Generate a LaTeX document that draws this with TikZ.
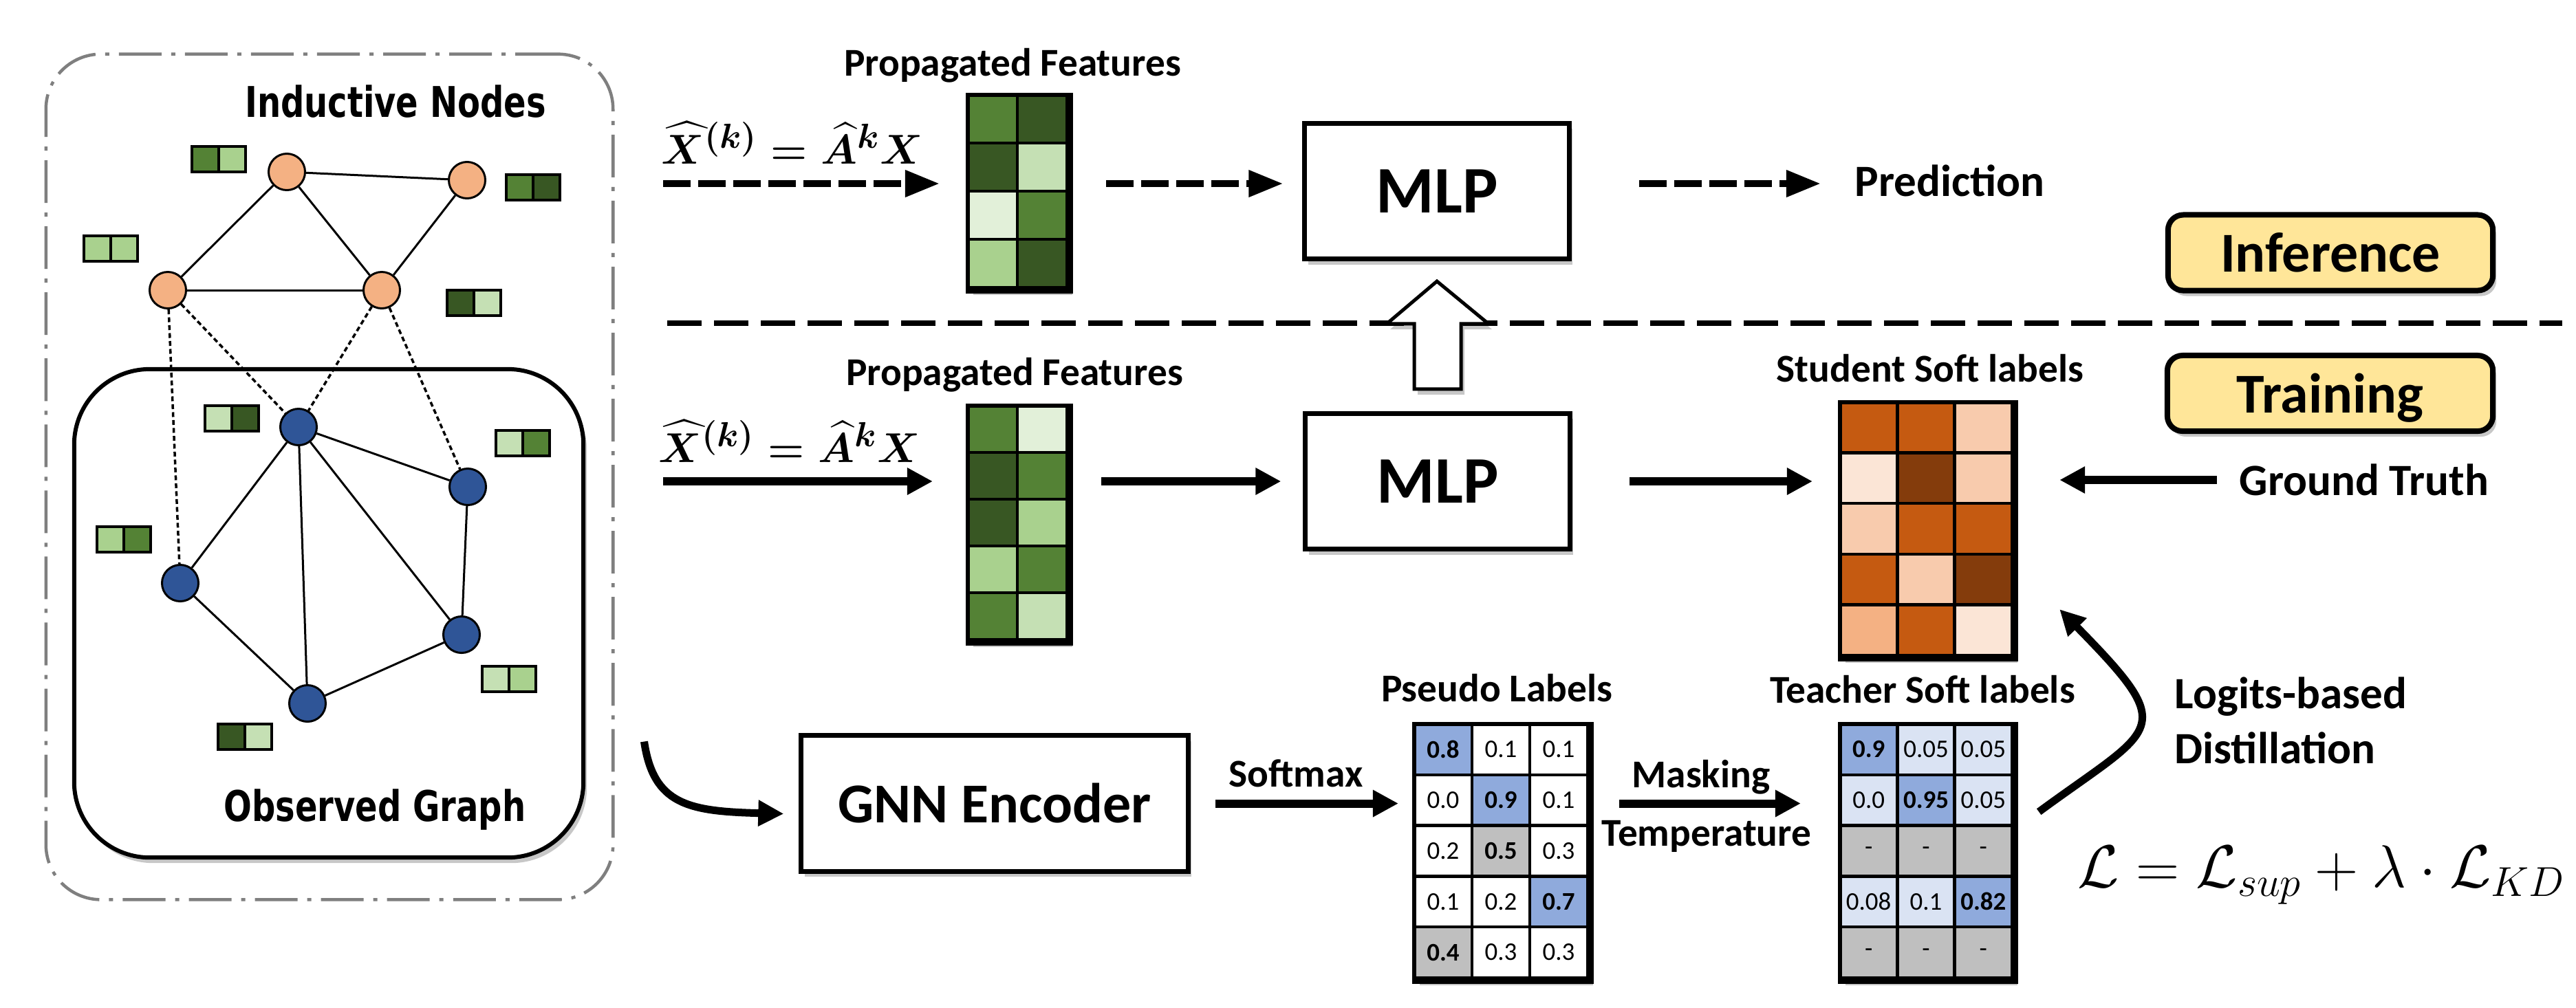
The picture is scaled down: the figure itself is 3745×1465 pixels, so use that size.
\documentclass[tikz,border=0pt]{standalone}
\usepackage{amsmath}
\usepackage{fontspec}
\setmainfont{Carlito}
\newfontfamily\tahfont[FakeStretch=0.78]{DejaVu Sans}
\usetikzlibrary{arrows.meta,shadows,calc}
\definecolor{gd}{HTML}{385723}
\definecolor{gm}{HTML}{548235}
\definecolor{gl}{HTML}{A9D18E}
\definecolor{gv}{HTML}{C5E0B4}
\definecolor{gp}{HTML}{E2F0D9}
\definecolor{od}{HTML}{843C0C}
\definecolor{om}{HTML}{C55A11}
\definecolor{op}{HTML}{F8CBAD}
\definecolor{ov}{HTML}{FBE5D6}
\definecolor{oq}{HTML}{F4B183}
\definecolor{bc}{HTML}{8FAADC}
\definecolor{bp}{HTML}{DAE3F3}
\definecolor{gc}{HTML}{BFBFBF}
\definecolor{yl}{HTML}{FFE699}
\definecolor{cOn}{HTML}{F4B183}
\definecolor{cBn}{HTML}{2F5597}
\definecolor{dgray}{HTML}{7F7F7F}
\begin{document}
\begin{tikzpicture}[x=0.01cm,y=-0.01cm,
  sh/.style={drop shadow={shadow xshift=0.05cm,shadow yshift=-0.08cm,fill=black,opacity=0.22}},
  lab/.style={font=\bfseries\fontsize{16.3}{19}\selectfont,inner sep=0pt},
  labm/.style={font=\bfseries\fontsize{18.5}{22}\selectfont,inner sep=0pt},
  tahlab/.style={font=\tahfont\bfseries\fontsize{17.5}{21}\selectfont,inner sep=0pt},
  box/.style={draw,line width=0.07cm,fill=white,sh,inner sep=0pt},
  mlpbox/.style={box,minimum width=3.84cm,minimum height=1.97cm,font=\bfseries\fontsize{27.5}{32}\selectfont},
  tagbox/.style={draw,line width=0.08cm,fill=yl,rounded corners=0.22cm,sh,inner sep=0pt,text depth=0pt,
     minimum width=4.72cm,minimum height=1.1cm,font=\bfseries\fontsize{23.3}{27}\selectfont},
  matbox/.style={draw,line width=0.06cm,fill=white,sh,inner sep=0pt,anchor=north west},
  cellst/.style={draw,line width=0.045cm},
  cellnode/.style={draw,line width=0.045cm,inner sep=0pt,font=\fontsize{10.5}{12}\selectfont},
  fcell/.style={draw,line width=0.035cm},
  onode/.style={circle,draw,line width=0.03cm,fill=cOn,minimum size=0.53cm,inner sep=0pt},
  bnode/.style={circle,draw,line width=0.03cm,fill=cBn,minimum size=0.53cm,inner sep=0pt},
  gedge/.style={line width=0.03cm},
  dedge/.style={line width=0.035cm,dash pattern=on 0.07cm off 0.045cm},
  solidarrow/.style={line width=0.12cm,-{Triangle[length=0.37cm,width=0.37cm]}},
  dasharrow/.style={line width=0.10cm,dash pattern=on 0.40cm off 0.11cm,-{Triangle[length=0.5cm,width=0.37cm]}},
  curvearrow/.style={line width=0.11cm,-{Triangle[length=0.37cm,width=0.36cm]}},
  sepline/.style={line width=0.075cm,dash pattern=on 0.5cm off 0.18cm},
  hollow/.style={draw,line width=0.05cm,fill=white,line join=miter,sh}
]
\useasboundingbox (0,0) rectangle (3745,1465);
\fill[white] (0,0) rectangle (3745,1465);

% ---------------- left graph panel ----------------
\node[draw=dgray,line width=0.045cm,dash pattern=on 0.62cm off 0.14cm on 0.06cm off 0.14cm,
  rounded corners=0.8cm,minimum width=8.24cm,minimum height=12.29cm,inner sep=0pt] (ind) at (479,693.5) {};
\node[draw,line width=0.06cm,rounded corners=1.1cm,minimum width=7.4cm,minimum height=7.1cm,
  fill=white,sh,inner sep=0pt] (obs) at (478,892) {};
\node[tahlab,anchor=base] (indlab) at (575,170) {Inductive Nodes};
\node[tahlab,anchor=base] (obslab) at (545,1194) {Observed Graph};

\node[onode] (o1) at (417,250) {};
\node[onode] (o2) at (679,262) {};
\node[onode] (o3) at (244,422) {};
\node[onode] (o4) at (555,422) {};
\node[bnode] (b1) at (434,621) {};
\node[bnode] (b2) at (680,708) {};
\node[bnode] (b3) at (262,848) {};
\node[bnode] (b4) at (671,923) {};
\node[bnode] (b5) at (447,1023) {};
\draw[gedge] (o1) -- (o2);
\draw[gedge] (o1) -- (o3);
\draw[gedge] (o1) -- (o4);
\draw[gedge] (o3) -- (o4);
\draw[gedge] (o2) -- (o4);
\draw[dedge] (o3) -- (b3);
\draw[dedge] (o3) -- (b1);
\draw[dedge] (o4) -- (b1);
\draw[dedge] (o4) -- (b2);
\draw[gedge] (b1) -- (b2);
\draw[gedge] (b1) -- (b3);
\draw[gedge] (b1) -- (b5);
\draw[gedge] (b1) -- (b4);
\draw[gedge] (b2) -- (b4);
\draw[gedge] (b3) -- (b5);
\draw[gedge] (b5) -- (b4);

% feature pairs
\foreach \fx/\fy/\ca/\cb in {279/213/gm/gl,736/254/gm/gd,122/343/gl/gl,650/422/gd/gv,
   298/590/gv/gd,721/626/gv/gm,141/766/gl/gm,701/969/gv/gl,317/1053/gd/gv}{
  \draw[fcell,fill=\ca] (\fx,\fy) rectangle ++(39,37);
  \draw[fcell,fill=\cb] (\fx+39,\fy) rectangle ++(39,37);
}

% ---------------- inference row ----------------
\node[lab,anchor=base] (pflab1) at (1472,110) {Propagated Features};
\node[matbox,minimum width=1.44cm,minimum height=2.8cm] (pf1) at (1407,138) {};
\foreach \cc/\rr/\cl in {0/0/gm,1/0/gd,0/1/gd,1/1/gv,0/2/gp,1/2/gm,0/3/gl,1/3/gd}
  \draw[cellst,fill=\cl] ({1407+\cc*72},{138+\rr*70}) rectangle ++(72,70);
\draw[line width=0.06cm] (pf1.north west) rectangle (pf1.south east);

\node[anchor=base west,inner sep=0pt,font=\fontsize{19}{22}\selectfont] (fx1) at (961,238)
  {$\boldsymbol{\widehat{X}^{(k)}=\widehat{A}^{k}X}$};
\node[mlpbox] (mlp1) at (2089,278) {MLP};
\node[labm,anchor=base west] (pred) at (2696,285) {Prediction};
\coordinate (in1) at (964,267);
\draw[dasharrow,shorten >=0.41cm] (in1) -- (in1 -| pf1.west);
\draw[dasharrow,shorten <=0.51cm,shorten >=0.28cm] (in1 -| pf1.east) -- (in1 -| mlp1.west);
\draw[dasharrow,shorten <=0.98cm,shorten >=0.49cm] (in1 -| mlp1.east) -- (in1 -| pred.west);
\node[tagbox] (inf) at (3388,367.5) {Inference};

% separator
\coordinate (sepL) at (970,470);
\coordinate (sepR) at (3725,470);
\draw[sepline] (sepL) -- (sepR);

% ---------------- training row ----------------
\node[lab,anchor=base] (pflab2) at (1475,560) {Propagated Features};
\node[matbox,minimum width=1.44cm,minimum height=3.4cm] (pf2) at (1407,590) {};
\foreach \cc/\rr/\cl in {0/0/gm,1/0/gp,0/1/gd,1/1/gm,0/2/gd,1/2/gl,0/3/gl,1/3/gm,0/4/gm,1/4/gv}
  \draw[cellst,fill=\cl] ({1407+\cc*72},{590+\rr*68}) rectangle ++(72,68);
\draw[line width=0.06cm] (pf2.north west) rectangle (pf2.south east);

\node[anchor=base west,inner sep=0pt,font=\fontsize{19}{22}\selectfont] (fx2) at (957,672)
  {$\boldsymbol{\widehat{X}^{(k)}=\widehat{A}^{k}X}$};
\node[mlpbox] (mlp2) at (2090,700) {MLP};

% hollow arrow from lower MLP to upper MLP
\coordinate (hb) at ($(mlp2.north)+(0,-32)$);
\coordinate (ht) at ($(mlp1.south)+(0,29)$);
\draw[hollow] ($(hb)+(-34,0)$) -- ($(hb)+(-34,-95)$) -- ($(hb)+(-74,-95)$) -- (ht)
  -- ($(hb)+(74,-95)$) -- ($(hb)+(34,-95)$) -- ($(hb)+(34,0)$) -- cycle;

\node[lab,anchor=base] (stlab) at (2806,555) {Student Soft labels};
\node[matbox,minimum width=2.5cm,minimum height=3.68cm] (student) at (2675,585) {};
\foreach \cc/\rr/\cl in {0/0/om,1/0/om,2/0/op,0/1/ov,1/1/od,2/1/op,0/2/op,1/2/om,2/2/om,
   0/3/om,1/3/op,2/3/od,0/4/oq,1/4/om,2/4/ov}
  \draw[cellst,fill=\cl] ({2675+\cc*83.333},{585+\rr*73.6}) rectangle ++(83.333,73.6);
\draw[line width=0.06cm] (student.north west) rectangle (student.south east);

\node[tagbox,minimum width=4.73cm] (trn) at (3387.5,572) {Training};
\node[labm,anchor=west] (gt) at (3255,698) {Ground Truth};

\coordinate (in2) at (964,700);
\draw[solidarrow,shorten >=0.51cm] (in2) -- (in2 -| pf2.west);
\draw[solidarrow,shorten <=0.44cm,shorten >=0.32cm] (in2 -| pf2.east) -- (in2 -| mlp2.west);
\draw[solidarrow,shorten <=0.83cm,shorten >=0.40cm] (in2 -| mlp2.east) -- (in2 -| student.west);
\draw[solidarrow,shorten <=0.32cm,shorten >=0.63cm] (gt.west) -- (gt.west -| student.east);

% ---------------- teacher row ----------------
\node[box,minimum width=5.62cm,minimum height=1.97cm,font=\bfseries\fontsize{23.3}{27}\selectfont] (gnn) at (1446,1168.5) {GNN Encoder};
\draw[curvearrow] ($(ind.east)+(43,385)$) .. controls (950,1170) and (1000,1180) .. ($(gnn.west)+(-22,15)$);

\node[lab,anchor=base] (pslab) at (2176,1020) {Pseudo Labels};
\node[matbox,minimum width=2.52cm,minimum height=3.69cm] (pseudo) at (2056,1053) {};
\foreach \cc/\rr/\cl/\tx in {0/0/bc/\textbf{0.8},1/0/white/0.1,2/0/white/0.1,
   0/1/white/0.0,1/1/bc/\textbf{0.9},2/1/white/0.1,
   0/2/white/0.2,1/2/gc/\textbf{0.5},2/2/white/0.3,
   0/3/white/0.1,1/3/white/0.2,2/3/bc/\textbf{0.7},
   0/4/gc/\textbf{0.4},1/4/white/0.3,2/4/white/0.3}
  \node[cellnode,fill=\cl,minimum width=0.84cm,minimum height=0.738cm]
    at ({2056+(\cc+0.5)*84},{1053+(\rr+0.5)*73.8}) {\tx};
\draw[line width=0.06cm] (pseudo.north west) rectangle (pseudo.south east);

\node[lab,anchor=base] (tclab) at (2795,1022) {Teacher Soft labels};
\node[matbox,minimum width=2.5cm,minimum height=3.69cm] (teacher) at (2675,1053) {};
\foreach \cc/\rr/\cl/\tx in {0/0/bc/\textbf{0.9},1/0/bp/0.05,2/0/bp/0.05,
   0/1/bp/0.0,1/1/bc/\textbf{0.95},2/1/bp/0.05,
   0/2/gc/-,1/2/gc/-,2/2/gc/-,
   0/3/bp/0.08,1/3/bp/0.1,2/3/bc/\textbf{0.82},
   0/4/gc/-,1/4/gc/-,2/4/gc/-}
  \node[cellnode,fill=\cl,minimum width=0.8333cm,minimum height=0.738cm]
    at ({2675+(\cc+0.5)*83.333},{1053+(\rr+0.5)*73.8}) {\tx};
\draw[line width=0.06cm] (teacher.north west) rectangle (teacher.south east);

\draw[solidarrow,shorten <=0.36cm,shorten >=0.23cm] (gnn.east) -- (gnn.east -| pseudo.west);
\draw[solidarrow,shorten <=0.40cm,shorten >=0.57cm] (gnn.east -| pseudo.east) -- (gnn.east -| teacher.west);
\node[lab,anchor=base] (smlab) at (1884,1144) {Softmax};
\node[lab,anchor=base] (mklab) at (2473,1145) {Masking};
\node[lab,anchor=base] (tplab) at (2481,1230) {Temperature};

\draw[curvearrow] ($(teacher.east)+(33,-60)$) .. controls (3135,1055) and (3170,1065) .. ($(student.east)+(63,114)$);
\node[labm,anchor=base west] (lglab) at (3161,1030) {Logits-based};
\node[labm,anchor=base west] (dslab) at (3161,1110) {Distillation};
\node[anchor=base west,inner sep=0pt,font=\fontsize{23}{27}\selectfont] (loss) at (3020,1290)
  {$\mathcal{L}=\mathcal{L}_{sup}+\lambda\cdot\mathcal{L}_{KD}$};
\end{tikzpicture}
\end{document}
